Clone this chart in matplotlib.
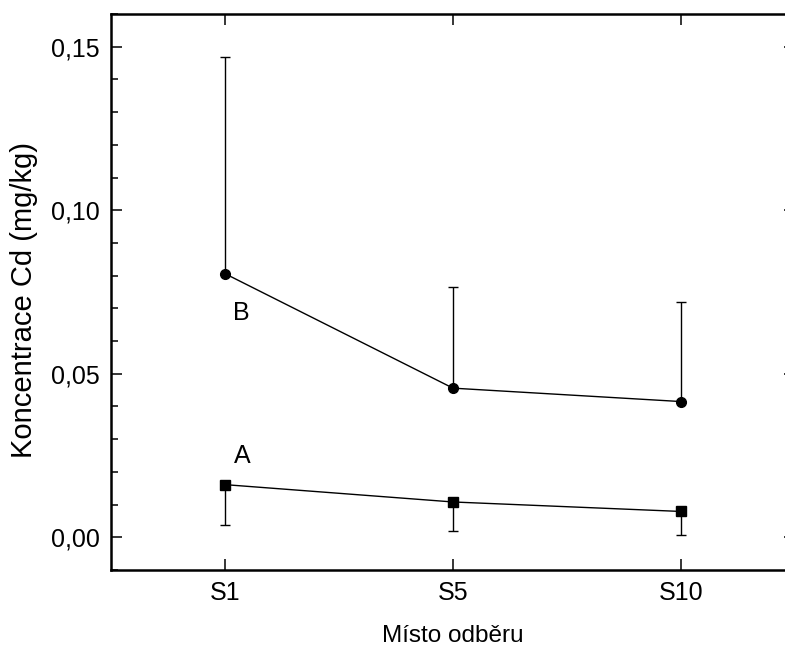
import numpy as np
import matplotlib
matplotlib.use('Agg')
import matplotlib.pyplot as plt
from matplotlib.ticker import MultipleLocator, FuncFormatter

# Data
sites = ['S1', 'S5', 'S10']
conc_a = [0.0161, 0.0108, 0.0079]
err_a_low = [0.0122, 0.0089, 0.0073]
conc_b = [0.0806, 0.0456, 0.0415]
err_b_high = [0.0663, 0.0309, 0.0304]

plt.rcParams['font.family'] = ['Liberation Sans', 'DejaVu Sans']
plt.rcParams['font.size'] = 18

fig = plt.figure(figsize=(7.85, 6.53), dpi=100)
ax = fig.add_axes([0.1414, 0.1271, 0.8713, 0.8515])

x = np.arange(1, len(sites) + 1)

# series B: upper error bars only
ax.errorbar(x, conc_b, yerr=[np.zeros(len(x)), err_b_high], fmt='-o', color='black',
            ms=7, lw=1.0, elinewidth=1.0, capsize=3.6, capthick=1.0)
# series A: lower error bars only
ax.errorbar(x, conc_a, yerr=[err_a_low, np.zeros(len(x))], fmt='-s', color='black',
            ms=7, lw=1.0, elinewidth=1.0, capsize=3.6, capthick=1.0)

ax.text(x[0] + 0.07, conc_b[0] - 0.012, 'B', fontsize=18, ha='center', va='center')
ax.text(x[0] + 0.075, conc_a[0] + 0.0088, 'A', fontsize=18, ha='center', va='center')

ax.set_xlim(0.5, 3.5)
ax.set_ylim(-0.01, 0.16)
ax.set_xticks(x)
ax.set_xticklabels(sites)
ax.yaxis.set_major_locator(MultipleLocator(0.05))
ax.yaxis.set_minor_locator(MultipleLocator(0.01))
ax.yaxis.set_major_formatter(FuncFormatter(lambda v, p: f'{v:.2f}'.replace('.', ',')))

ax.tick_params(which='both', direction='in', top=True, right=True, width=1.1, pad=8)
ax.tick_params(which='major', length=8)
ax.tick_params(which='minor', length=4.7)
for s in ax.spines.values():
    s.set_linewidth(1.8)

ax.set_xlabel('Místo odběru', fontsize=17.5, labelpad=14)
ax.set_ylabel('Koncentrace Cd (mg/kg)', fontsize=21)
ax.yaxis.set_label_coords(-0.107, 0.485)

fig.savefig('out.png', dpi=100)
